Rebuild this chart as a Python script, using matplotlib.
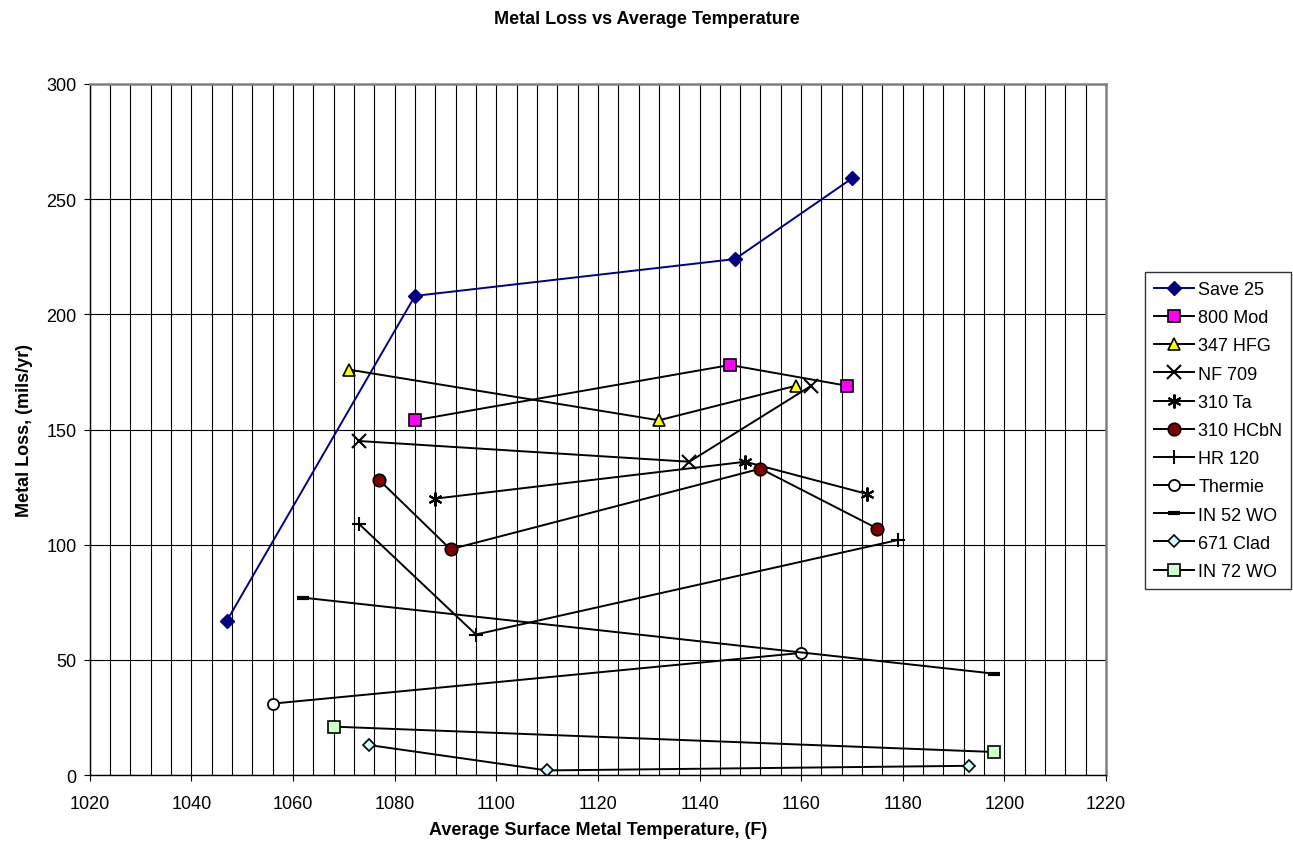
import matplotlib
matplotlib.use("Agg")
import matplotlib.pyplot as plt
from matplotlib.ticker import MultipleLocator

plt.rcParams['font.family'] = ['Liberation Sans', 'DejaVu Sans']

# === Dati: temperatura media (F) e perdita di metallo (mils/yr) ===
save25_t = [1047, 1084, 1147, 1170]
save25_loss = [67, 208, 224, 259]

mod800_t = [1084, 1146, 1169]
mod800_loss = [154, 178, 169]

hfg347_t = [1071, 1132, 1159]
hfg347_loss = [176, 154, 169]

nf709_t = [1073, 1138, 1162]
nf709_loss = [145, 136, 169]

ta310_t = [1088, 1149, 1173]
ta310_loss = [120, 136, 122]

hcbn310_t = [1077, 1091, 1152, 1175]
hcbn310_loss = [128, 98, 133, 107]

hr120_t = [1073, 1096, 1179]
hr120_loss = [109, 61, 102]

thermie_t = [1056, 1160]
thermie_loss = [31, 53]

in52_t = [1062, 1198]
in52_loss = [77, 44]

clad671_t = [1075, 1110, 1193]
clad671_loss = [13, 2, 4]

in72_t = [1068, 1198]
in72_loss = [21, 10]

# === Figura ===
fig = plt.figure(figsize=(12.93, 8.54), dpi=100)
ax = fig.add_axes([0.0694, 0.0913, 0.8554 - 0.0694, 0.9005 - 0.0913])

lw = 1.4
ax.plot(save25_t, save25_loss, color='#000080', lw=lw, marker='D', ms=7,
        mfc='#000080', mec='#000080', label='Save 25', zorder=3)
ax.plot(mod800_t, mod800_loss, color='black', lw=lw, marker='s', ms=9,
        mfc='#FF00FF', mec='black', mew=1.2, label='800 Mod', zorder=3)
ax.plot(hfg347_t, hfg347_loss, color='black', lw=lw, marker='^', ms=9,
        mfc='#FFFF00', mec='black', mew=1.2, label='347 HFG', zorder=3)
ax.plot(nf709_t, nf709_loss, color='black', lw=lw, marker='x', ms=10,
        mec='black', mew=1.5, label='NF 709', zorder=3)
ax.plot(ta310_t, ta310_loss, color='black', lw=lw, marker=(6, 2, 0), ms=10,
        mec='black', mew=1.5, label='310 Ta', zorder=3)
ax.plot(hcbn310_t, hcbn310_loss, color='black', lw=lw, marker='o', ms=9,
        mfc='#800000', mec='black', mew=1.2, label='310 HCbN', zorder=3)
ax.plot(hr120_t, hr120_loss, color='black', lw=lw, marker='+', ms=10,
        mec='black', mew=1.5, label='HR 120', zorder=3)
ax.plot(thermie_t, thermie_loss, color='black', lw=lw, marker='o', ms=8,
        mfc='white', mec='black', mew=1.3, label='Thermie', zorder=3)
ax.plot(in52_t, in52_loss, color='black', lw=lw, marker='_', ms=9,
        mec='black', mew=3, label='IN 52 WO', zorder=3)
ax.plot(clad671_t, clad671_loss, color='black', lw=lw, marker='D', ms=6.5,
        mfc='#CCFFFF', mec='black', mew=1.2, label='671 Clad', zorder=3)
ax.plot(in72_t, in72_loss, color='black', lw=lw, marker='s', ms=9,
        mfc='#CCFFCC', mec='black', mew=1.2, label='IN 72 WO', zorder=3)

# Assi e griglia
ax.set_xlim(1020, 1220)
ax.set_ylim(0, 300)
ax.xaxis.set_major_locator(MultipleLocator(20))
ax.xaxis.set_minor_locator(MultipleLocator(4))
ax.yaxis.set_major_locator(MultipleLocator(50))
ax.grid(True, which='major', color='black', lw=0.8)
ax.grid(True, which='minor', axis='x', color='black', lw=0.8)
ax.set_axisbelow(True)
ax.tick_params(axis='both', which='major', direction='out', length=4.5,
               width=0.8, labelsize=13, color='black')
ax.tick_params(axis='x', pad=10)
ax.tick_params(axis='y', pad=5)
ax.tick_params(which='minor', length=0)

for side in ('left', 'bottom'):
    ax.spines[side].set_color('black')
    ax.spines[side].set_linewidth(1.0)
for side in ('top', 'right'):
    ax.spines[side].set_color('#808080')
    ax.spines[side].set_linewidth(1.8)

# Titoli
fig.text(0.5, 0.977, 'Metal Loss vs Average Temperature', ha='center',
         va='center', fontsize=13, fontweight='bold')
fig.text(0.4625, 0.028, 'Average Surface Metal Temperature, (F)', ha='center',
         va='center', fontsize=13, fontweight='bold')
fig.text(0.0186, 0.496, 'Metal Loss, (mils/yr)', ha='center', va='center',
         rotation=90, fontsize=13, fontweight='bold')

# Legenda
leg = ax.legend(loc='upper left', bbox_to_anchor=(0.8855, 0.6803),
                bbox_transform=fig.transFigure, borderaxespad=0,
                fontsize=13, frameon=True, fancybox=False, handlelength=2.2,
                handletextpad=0.25, borderpad=0.5, labelspacing=0.62,
                markerscale=1.0)
leg.get_frame().set_edgecolor('black')
leg.get_frame().set_linewidth(1.0)

fig.savefig('out.png', dpi=100)
